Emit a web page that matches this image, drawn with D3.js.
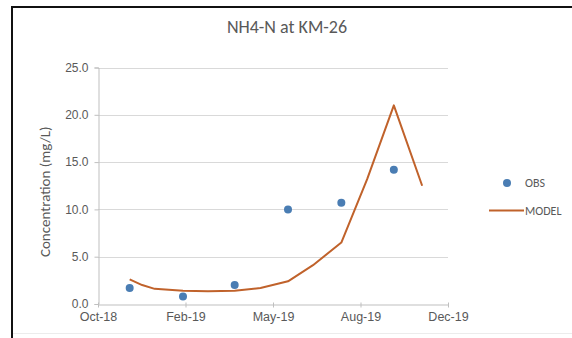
<!DOCTYPE html>
<html>
<head>
<meta charset="utf-8">
<script src="https://cdn.jsdelivr.net/npm/d3@7"></script>
<style>
  html, body { margin: 0; padding: 0; background: #fff; }
  svg { display: block; font-family: Calibri, Carlito, "Open Sans", "Liberation Sans", sans-serif; }
</style>
</head>
<body>
<svg id="chart" width="572" height="338"></svg>
<script>
// Observed NH4-N samples (date, mg/L)
const obsDates  = ["2018-11-27", "2019-01-30", "2019-04-02", "2019-06-05", "2019-08-08", "2019-10-10"];
const obsValues = [1.7, 0.8, 2.0, 10.0, 10.7, 14.2];

// Model output (date, mg/L)
const modelDates  = ["2018-11-27", "2018-12-12", "2018-12-27", "2019-01-30", "2019-03-01", "2019-04-02",
                     "2019-05-03", "2019-06-05", "2019-07-05", "2019-08-08", "2019-09-08", "2019-10-10", "2019-11-13"];
const modelValues = [2.6, 2.0, 1.6, 1.4, 1.35, 1.4, 1.7, 2.4, 4.1, 6.5, 13.2, 21.0, 12.5];

// Axis ticks
const xTickDates  = ["2018-10-20", "2019-02-02", "2019-05-18", "2019-08-31", "2019-12-14"];
const xTickLabels = ["Oct-18", "Feb-19", "May-19", "Aug-19", "Dec-19"];
const yTicks      = [0, 5, 10, 15, 20, 25];

const title = "NH4-N at KM-26";
const yTitle = "Concentration (mg/L)";
const seriesNames = ["OBS", "MODEL"];

const parse = d3.utcParse("%Y-%m-%d");
const obs = obsDates.map((d, i) => ({ date: parse(d), value: obsValues[i] }));
const model = modelDates.map((d, i) => ({ date: parse(d), value: modelValues[i] }));
const xTicks = xTickDates.map(parse);

const svg = d3.select("#chart");

const plot = { left: 98, right: 448, top: 67.5, bottom: 304 };

const x = d3.scaleUtc()
  .domain([xTicks[0], xTicks[xTicks.length - 1]])
  .range([plot.left, plot.right]);
const y = d3.scaleLinear()
  .domain([0, 25])
  .range([plot.bottom, plot.top]);

const textGray = "#595959";
const axisGray = "#bfbfbf";
const gridGray = "#d9d9d9";
const obsColor = "#4a7db3";
const modelColor = "#c0622b";

// Chart frame
svg.append("rect").attr("x", 12).attr("y", 7).attr("width", 572).attr("height", 326)
  .attr("fill", "#fff").attr("stroke", "none");
svg.append("line").attr("x1", 12).attr("x2", 12).attr("y1", 6).attr("y2", 338)
  .attr("stroke", "#111").attr("stroke-width", 2);
svg.append("line").attr("x1", 11).attr("x2", 572).attr("y1", 7).attr("y2", 7)
  .attr("stroke", "#111").attr("stroke-width", 2);
svg.append("line").attr("x1", 13).attr("x2", 572).attr("y1", 333.5).attr("y2", 333.5)
  .attr("stroke", "#ececec").attr("stroke-width", 1);

// Title
svg.append("text").attr("x", 287).attr("y", 33).attr("text-anchor", "middle")
  .attr("font-size", 18).attr("fill", textGray).text(title);

// Gridlines
svg.append("g").selectAll("line").data(yTicks.filter(v => v > 0)).join("line")
  .attr("x1", plot.left).attr("x2", plot.right)
  .attr("y1", d => Math.round(y(d)) + 0.5).attr("y2", d => Math.round(y(d)) + 0.5)
  .attr("stroke", gridGray).attr("stroke-width", 1);

// Y axis
const yAxis = svg.append("g")
  .attr("transform", `translate(${plot.left + 0.5},0)`)
  .call(d3.axisLeft(y).tickValues(yTicks).tickFormat(d3.format(".1f")).tickSize(4).tickPadding(6));
yAxis.select(".domain").attr("stroke", axisGray);
yAxis.selectAll(".tick line").attr("stroke", axisGray);
yAxis.selectAll(".tick text").attr("fill", textGray).attr("font-size", 12)
  .attr("font-family", "inherit");

// X axis
const xAxis = svg.append("g")
  .attr("transform", `translate(0,${Math.round(plot.bottom) + 0.5})`)
  .call(d3.axisBottom(x).tickValues(xTicks).tickFormat((d, i) => xTickLabels[i]).tickSizeInner(4).tickSizeOuter(0).tickPadding(4));
xAxis.select(".domain").attr("stroke", axisGray);
xAxis.selectAll(".tick line").attr("stroke", axisGray).attr("y1", -2).attr("y2", 3);
xAxis.selectAll(".tick text").attr("fill", textGray).attr("font-size", 12.5)
  .attr("font-family", "inherit");

// Y axis title
svg.append("text")
  .attr("transform", `translate(50,${(plot.top + plot.bottom) / 2 + 6}) rotate(-90)`)
  .attr("text-anchor", "middle").attr("font-size", 15).attr("fill", textGray).text(yTitle);

// Model line
const line = d3.line().x(d => x(d.date)).y(d => y(d.value));
svg.append("path").datum(model).attr("d", line)
  .attr("fill", "none").attr("stroke", modelColor).attr("stroke-width", 2)
  .attr("stroke-linejoin", "round");

// Observations
svg.append("g").selectAll("circle").data(obs).join("circle")
  .attr("cx", d => x(d.date)).attr("cy", d => y(d.value)).attr("r", 4)
  .attr("fill", obsColor);

// Legend
const legend = svg.append("g");
legend.append("circle").attr("cx", 507).attr("cy", 183).attr("r", 4).attr("fill", obsColor);
legend.append("text").attr("x", 525).attr("y", 187).attr("font-size", 12)
  .attr("fill", textGray).text(seriesNames[0]);
legend.append("line").attr("x1", 489).attr("x2", 524).attr("y1", 210.5).attr("y2", 210.5)
  .attr("stroke", modelColor).attr("stroke-width", 2);
legend.append("text").attr("x", 525).attr("y", 215).attr("font-size", 12)
  .attr("fill", textGray).text(seriesNames[1]);
</script>
</body>
</html>
